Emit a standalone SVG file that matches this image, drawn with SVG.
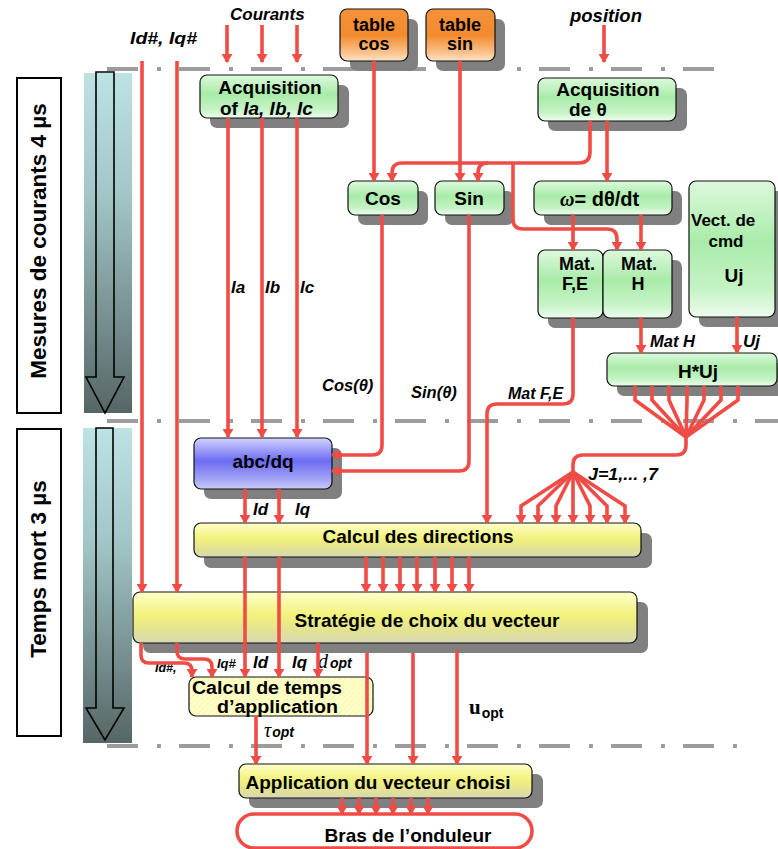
<svg xmlns="http://www.w3.org/2000/svg" width="778" height="849" viewBox="0 0 778 849">
<defs>
<style>
.t{font-family:"Liberation Sans",Arial,sans-serif;font-weight:bold;fill:#000}
.i{font-style:italic}
.s{font-family:"Liberation Serif","Times New Roman",serif}
.sh{fill:#808080}
.bx{stroke:#111;stroke-width:1.2}
.c{fill:none;stroke:#ef4c46;stroke-width:3.6}
.a{marker-end:url(#ah)}
.dd{stroke:#9c9c9c;stroke-width:4;stroke-dasharray:31 19 4 18;fill:none}
</style>
<marker id="ah" viewBox="0 0 9 11" refX="8" refY="5.5" markerWidth="9" markerHeight="11" markerUnits="userSpaceOnUse" orient="auto">
<path d="M0,0 L9,5.5 L0,11 z" fill="#ef4c46"/>
</marker>
<linearGradient id="gG" x1="0" y1="0" x2="0" y2="1">
<stop offset="0" stop-color="#dcf9dc"/><stop offset="0.45" stop-color="#a9eba9"/><stop offset="0.8" stop-color="#c6f3c6"/><stop offset="1" stop-color="#eefcee"/>
</linearGradient>
<linearGradient id="gO" x1="0" y1="0" x2="0" y2="1">
<stop offset="0" stop-color="#f5923a"/><stop offset="0.5" stop-color="#f38a2e"/><stop offset="0.85" stop-color="#fbc490"/><stop offset="1" stop-color="#fde4c8"/>
</linearGradient>
<linearGradient id="gB" x1="0" y1="0" x2="0" y2="1">
<stop offset="0" stop-color="#d4d4ff"/><stop offset="0.45" stop-color="#6b6bf4"/><stop offset="0.8" stop-color="#a2a2f6"/><stop offset="1" stop-color="#cacaf8"/>
</linearGradient>
<linearGradient id="gY" x1="0" y1="0" x2="0" y2="1">
<stop offset="0" stop-color="#ffffcc"/><stop offset="0.45" stop-color="#f2f27c"/><stop offset="0.8" stop-color="#e0e098"/><stop offset="1" stop-color="#d8d8b4"/>
</linearGradient>
<linearGradient id="gC" x1="0" y1="0" x2="0" y2="1">
<stop offset="0" stop-color="#bde2e4"/><stop offset="0.35" stop-color="#a3c7c8"/><stop offset="1" stop-color="#566666"/>
</linearGradient>
<pattern id="hatch" width="4" height="4" patternUnits="userSpaceOnUse" patternTransform="rotate(45)">
<rect width="4" height="4" fill="#ffffc6"/><line x1="0" y1="0" x2="0" y2="4" stroke="#ececa8" stroke-width="1"/>
</pattern>
</defs>
<rect width="778" height="849" fill="#fff"/>

<g id="phases">
<rect x="17" y="78" width="44" height="335" fill="#fff" stroke="#000" stroke-width="2"/>
<text class="t" font-size="22.5" transform="translate(46,241) rotate(-90)" text-anchor="middle">Mesures de courants 4 µs</text>
<rect x="17" y="429" width="44" height="307" fill="#fff" stroke="#000" stroke-width="2"/>
<text class="t" font-size="22.5" transform="translate(46,569) rotate(-90)" text-anchor="middle">Temps mort 3 µs</text>
<rect x="84" y="73" width="48" height="340" fill="url(#gC)"/>
<path d="M96 72 H114 V377 H124 L105 413 L86 377 H96 Z" fill="none" stroke="#000" stroke-width="1.6"/>
<rect x="83" y="428" width="49" height="315" fill="url(#gC)"/>
<path d="M96 428 H113 V708 H124 L105 740 L86 708 H96 Z" fill="none" stroke="#000" stroke-width="1.6"/>
</g>

<g id="separators">
<path class="dd" d="M107 69 H716"/>
<path class="dd" d="M107 421 H778"/>
<path class="dd" d="M107 746 H738"/>
</g>

<g id="labels">
<text class="t i" x="230" y="20" font-size="17">Courants</text>
<text class="t i" x="130" y="44" font-size="16" textLength="67" lengthAdjust="spacingAndGlyphs">Id#, Iq#</text>
<text class="t i" x="570" y="22" font-size="18.5">position</text>
<text class="t i" x="231" y="293" font-size="17">Ia</text>
<text class="t i" x="265" y="293" font-size="17">Ib</text>
<text class="t i" x="300" y="293" font-size="17">Ic</text>
<text class="t i" x="322" y="391" font-size="16.5">Cos(θ)</text>
<text class="t i" x="411" y="398" font-size="16.5">Sin(θ)</text>
<text class="t i" x="508" y="399" font-size="16">Mat F,E</text>
<text class="t i" x="650" y="347" font-size="16.5">Mat H</text>
<text class="t i" x="743" y="347" font-size="17">Uj</text>
<text class="t i" x="253" y="515" font-size="17">Id</text>
<text class="t i" x="295" y="515" font-size="17">Iq</text>
<text class="t i" x="588" y="480" font-size="16" textLength="70" lengthAdjust="spacingAndGlyphs">J=1,... ,7</text>
<text class="t i" x="155" y="672" font-size="12.5">Id#,</text>
<text class="t i" x="217" y="668" font-size="13">Iq#</text>
<text class="t i" x="253" y="668" font-size="17">Id</text>
<text class="t i" x="292" y="668" font-size="17">Iq</text>
<text x="318" y="668"><tspan class="s" font-style="italic" font-size="20">d</tspan><tspan class="t i" font-size="14" dx="2">opt</tspan></text>
<text x="264" y="737"><tspan class="s" font-style="italic" font-size="20">τ</tspan><tspan class="t i" font-size="14" dx="1">opt</tspan></text>
<text x="469" y="714"><tspan class="s" font-weight="bold" font-size="21">u</tspan><tspan class="t" font-size="14" dx="1" dy="4">opt</tspan></text>
</g>

<g id="table-cos">
<rect class="sh" x="350" y="19" width="68" height="52" rx="7"/>
<rect class="bx" x="340" y="9" width="68" height="52" rx="7" fill="url(#gO)"/>
<text class="t" x="374" y="31" font-size="18" text-anchor="middle">table</text>
<text class="t" x="374" y="50" font-size="18" text-anchor="middle">cos</text>
</g>
<g id="table-sin">
<rect class="sh" x="436" y="19" width="69" height="52" rx="7"/>
<rect class="bx" x="426" y="9" width="69" height="52" rx="7" fill="url(#gO)"/>
<text class="t" x="460" y="31" font-size="18" text-anchor="middle">table</text>
<text class="t" x="460" y="50" font-size="18" text-anchor="middle">sin</text>
</g>
<g id="acq-courants">
<rect class="sh" x="210" y="85" width="139" height="43" rx="7"/>
<rect class="bx" x="200" y="75" width="138" height="43" rx="7" fill="url(#gG)"/>
<text class="t" x="270" y="94" font-size="19" text-anchor="middle">Acquisition</text>
<text class="t" x="220" y="115" font-size="19">of <tspan class="i">Ia, Ib, Ic</tspan></text>
</g>
<g id="acq-theta">
<rect class="sh" x="548" y="88" width="139" height="43" rx="7"/>
<rect class="bx" x="538" y="78" width="138" height="43" rx="7" fill="url(#gG)"/>
<text class="t" x="608" y="96" font-size="19" text-anchor="middle">Acquisition</text>
<text class="t" x="569" y="116" font-size="19">de  θ</text>
</g>
<g id="cos">
<rect class="sh" x="358" y="191" width="70" height="34" rx="7"/>
<rect class="bx" x="348" y="181" width="70" height="34" rx="7" fill="url(#gG)"/>
<text class="t" x="383" y="205" font-size="19" text-anchor="middle">Cos</text>
</g>
<g id="sin">
<rect class="sh" x="445" y="191" width="69" height="34" rx="7"/>
<rect class="bx" x="435" y="181" width="69" height="34" rx="7" fill="url(#gG)"/>
<text class="t" x="469" y="205" font-size="19" text-anchor="middle">Sin</text>
</g>
<g id="omega">
<rect class="sh" x="544" y="191" width="138" height="34" rx="7"/>
<rect class="bx" x="534" y="181" width="138" height="34" rx="7" fill="url(#gG)"/>
<text class="t" x="560" y="206" font-size="20"><tspan class="s i">ω</tspan>= dθ/dt</text>
</g>
<g id="vect-cmd">
<rect class="sh" x="699" y="191" width="86" height="136" rx="7"/>
<rect class="bx" x="689" y="181" width="86" height="136" rx="7" fill="url(#gG)"/>
<text class="t" x="691" y="226" font-size="17">Vect. de</text>
<text class="t" x="726" y="247" font-size="17" text-anchor="middle">cmd</text>
<text class="t" x="734" y="282" font-size="19" text-anchor="middle">Uj</text>
</g>
<g id="mat-fe">
<rect class="sh" x="548" y="260" width="134" height="68" rx="7"/>
<rect class="bx" x="538" y="250" width="65" height="68" rx="7" fill="url(#gG)"/>
<text class="t" x="577" y="270" font-size="18" text-anchor="middle">Mat.</text>
<text class="t" x="575" y="290" font-size="18" text-anchor="middle">F,E</text>
</g>
<g id="mat-h">
<rect class="bx" x="603" y="250" width="69" height="68" rx="7" fill="url(#gG)"/>
<text class="t" x="639" y="270" font-size="18" text-anchor="middle">Mat.</text>
<text class="t" x="638" y="290" font-size="18" text-anchor="middle">H</text>
</g>
<g id="h-uj">
<rect class="sh" x="617" y="363" width="170" height="33" rx="7"/>
<rect class="bx" x="607" y="353" width="170" height="33" rx="7" fill="url(#gG)"/>
<text class="t" x="698" y="378" font-size="19" text-anchor="middle">H*Uj</text>
</g>
<g id="abc-dq">
<rect class="sh" x="204" y="448" width="138" height="51" rx="7"/>
<rect class="bx" x="194" y="438" width="138" height="51" rx="7" fill="url(#gB)"/>
<text class="t" x="263" y="468" font-size="19" text-anchor="middle">abc/dq</text>
</g>
<g id="calcul-directions">
<rect class="sh" x="204" y="533" width="448" height="35" rx="7"/>
<rect class="bx" x="194" y="523" width="447" height="34" rx="7" fill="url(#gY)"/>
<text class="t" x="418" y="543" font-size="19" text-anchor="middle">Calcul des directions</text>
</g>
<g id="strategie">
<rect class="sh" x="143" y="602" width="505" height="51" rx="7"/>
<rect class="bx" x="133" y="592" width="504" height="51" rx="7" fill="url(#gY)"/>
<text class="t" x="427" y="627" font-size="19" text-anchor="middle">Stratégie de choix du vecteur</text>
</g>
<g id="calcul-temps">
<rect class="bx" x="189" y="677" width="184" height="39" rx="7" fill="url(#hatch)"/>
<text class="t" x="192" y="694" font-size="18" textLength="150" lengthAdjust="spacingAndGlyphs">Calcul de temps</text>
<text class="t" x="217" y="713" font-size="18" textLength="121" lengthAdjust="spacingAndGlyphs">d’application</text>
</g>
<g id="application">
<rect class="sh" x="249" y="774" width="294" height="34" rx="7"/>
<rect class="bx" x="239" y="764" width="293" height="34" rx="7" fill="url(#gY)"/>
<text class="t" x="378" y="789" font-size="19" text-anchor="middle">Application du vecteur choisi</text>
</g>
<g id="bras">
<rect x="237" y="814" width="295" height="34" rx="17" fill="#fff" stroke="#ef4c46" stroke-width="3.6"/>
<text class="t" x="408" y="842" font-size="19" text-anchor="middle">Bras de l’onduleur</text>
</g>

<g id="connectors">
<path class="c a" d="M227 25 V62"/>
<path class="c a" d="M262 25 V62"/>
<path class="c a" d="M297 25 V62"/>
<path class="c a" d="M604 25 V62"/>
<path class="c a" d="M142 61 V592"/>
<path class="c a" d="M177 61 V592"/>
<path class="c a" d="M374 61 V181"/>
<path class="c a" d="M460 61 V181"/>
<path class="c a" d="M228 118 V437"/>
<path class="c a" d="M262 118 V437"/>
<path class="c a" d="M297 118 V437"/>
<path class="c a" d="M590 121 V152 Q590 163 579 163 H402 Q392 163 392 173 V181"/>
<path class="c a" d="M488 163 Q478 163 478 173 V181"/>
<path class="c a" d="M513 163 V219 Q513 229 523 229 H607 Q617 229 617 239 V250"/>
<path class="c a" d="M607 121 V181"/>
<path class="c a" d="M573 215 V250"/>
<path class="c a" d="M641 215 V250"/>
<path class="c a" d="M382 215 V445 Q382 455 372 455 H332"/>
<path class="c a" d="M469 215 V461 Q469 471 459 471 H332"/>
<path class="c a" d="M641 318 V353"/>
<path class="c a" d="M737 317 V353"/>
<path class="c a" d="M573 318 V394 Q573 404 563 404 H497 Q487 404 487 414 V523"/>
<path class="c" d="M635 386 V400 L686 437 M652 386 V400 L686 437 M669 386 V400 L686 437 M687 386 V400 L686 437 M704 386 V400 L686 437 M721 386 V400 L686 437 M738 386 V400 L686 437"/>
<path class="c" d="M686 437 V445 Q686 455 676 455 H583 Q573 455 573 465 V472"/>
<path class="c a" d="M573 472 L521 506 V523"/>
<path class="c a" d="M573 472 L538 506 V523"/>
<path class="c a" d="M573 472 L556 506 V523"/>
<path class="c a" d="M573 472 V523"/>
<path class="c a" d="M573 472 L590 506 V523"/>
<path class="c a" d="M573 472 L607 506 V523"/>
<path class="c a" d="M573 472 L625 506 V523"/>
<path class="c a" d="M245 489 V523"/>
<path class="c a" d="M279 489 V523"/>
<path class="c a" d="M366 557 V592"/>
<path class="c a" d="M383 557 V592"/>
<path class="c a" d="M400 557 V592"/>
<path class="c a" d="M417 557 V592"/>
<path class="c a" d="M435 557 V592"/>
<path class="c a" d="M452 557 V592"/>
<path class="c a" d="M469 557 V592"/>
<path class="c a" d="M245 557 V677"/>
<path class="c a" d="M279 557 V677"/>
<path class="c a" d="M141 643 V655 Q141 663 149 663 H184 Q192 663 192 671 V677"/>
<path class="c a" d="M177 643 V651 Q177 659 185 659 H204 Q212 659 212 667 V677"/>
<path class="c a" d="M318 643 V677"/>
<path class="c a" d="M367 653 V764"/>
<path class="c a" d="M413 653 V764"/>
<path class="c a" d="M457 650 V764"/>
<path class="c a" d="M256 716 V764"/>
<path class="c a" d="M342 798 V814"/>
<path class="c a" d="M359 798 V814"/>
<path class="c a" d="M376 798 V814"/>
<path class="c a" d="M393 798 V814"/>
<path class="c a" d="M411 798 V814"/>
<path class="c a" d="M428 798 V814"/>
</g>
</svg>
